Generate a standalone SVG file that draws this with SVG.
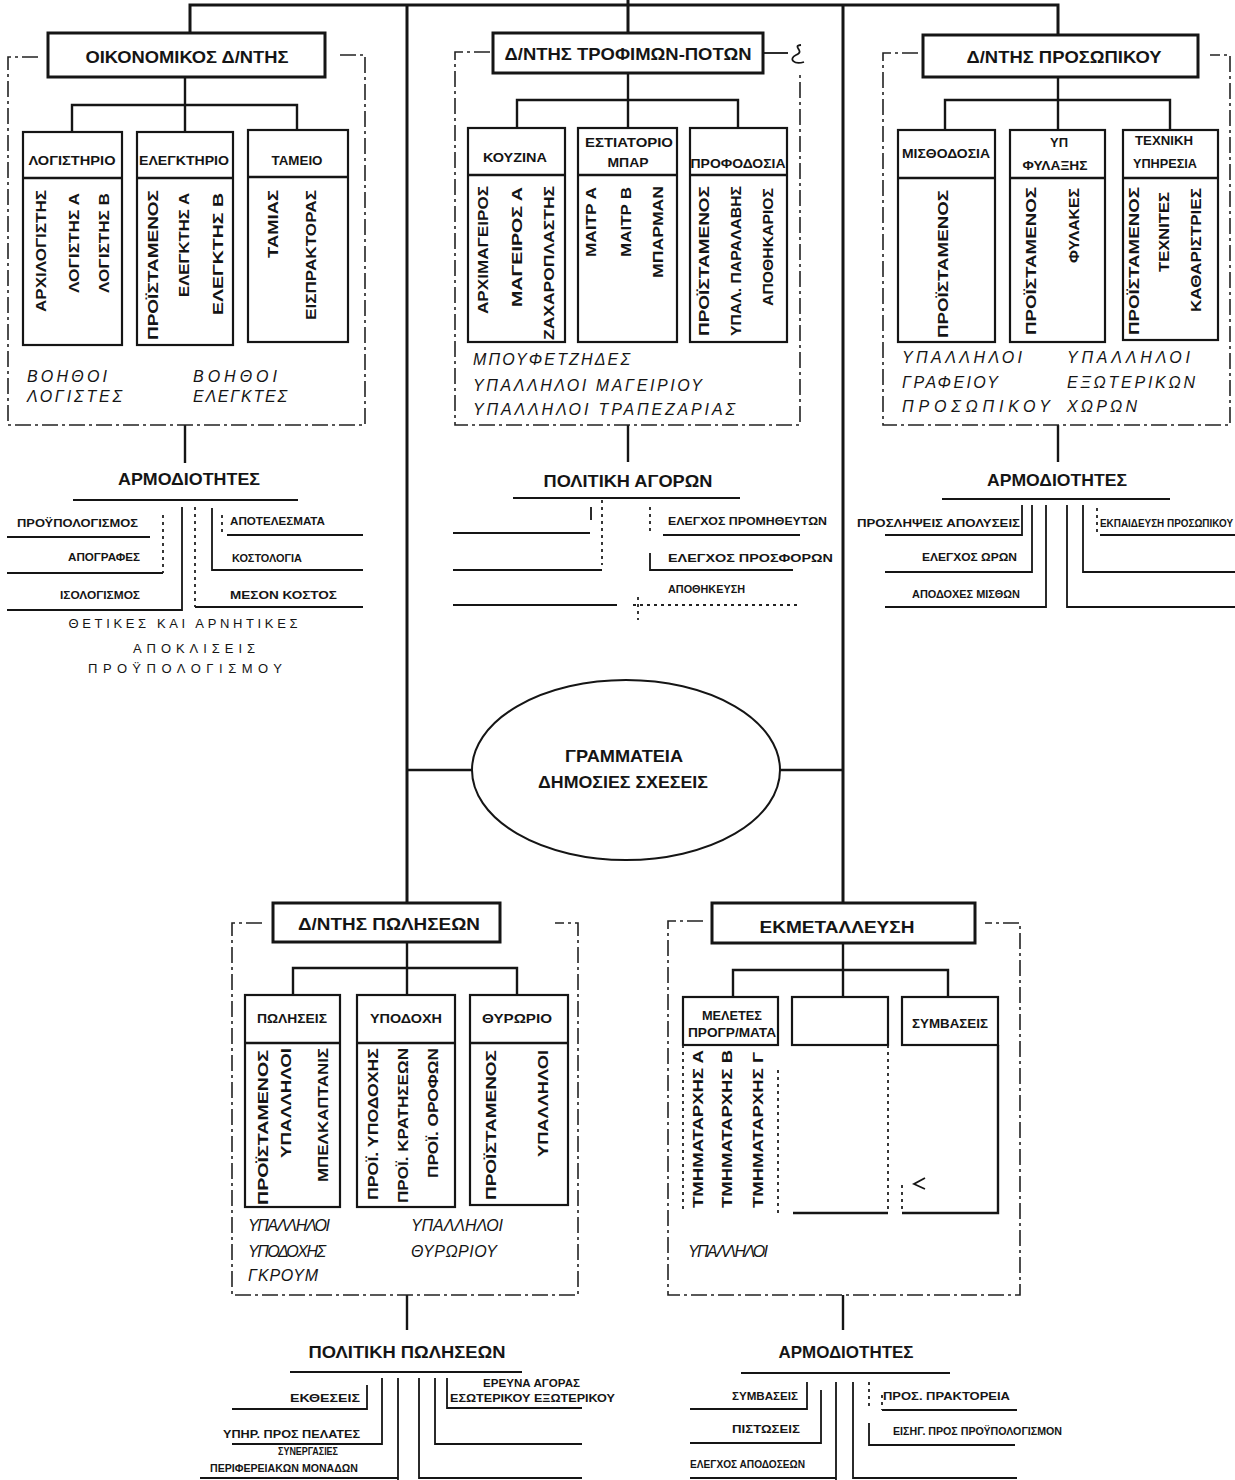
<svg xmlns="http://www.w3.org/2000/svg" width="1235" height="1480" viewBox="0 0 1235 1480">
<style>
.ln{stroke:#151515;fill:none}
.w3{stroke-width:3}
.w2{stroke-width:2.4}
.w1{stroke-width:1.8}
.enc{stroke:#222;fill:none;stroke-width:1.6;stroke-dasharray:16 4 3 4}
.dt{stroke:#222;fill:none;stroke-width:1.8;stroke-dasharray:3 4}
.bx{fill:#fff;stroke:#151515;stroke-width:3}
.sb{fill:none;stroke:#151515;stroke-width:2.2}
text{font-family:"Liberation Sans","DejaVu Sans",Arial,sans-serif;fill:#151515}
.h{font-size:17px;font-weight:bold;text-anchor:middle}
.s{font-size:13px;font-weight:bold;text-anchor:middle}
.v{font-size:15px;font-weight:bold;text-anchor:end}
.i{font-size:16px;font-style:italic}
.t{font-size:17px;font-weight:bold;text-anchor:middle}
.l{font-size:10px;font-weight:bold}
.c{font-size:13px;text-anchor:middle}
</style>

<g id="connectors">
  <path class="ln w3" d="M190,33 V5 H1058 V35 M628,0 V33 M407,5 V903 M843,5 V903"/>
  <path class="ln w2" d="M407,770 H472 M780,770 H843"/>
  <path class="ln w2" d="M185,77 V132 M72,132 V105 H297 V130 M185,425 V463"/>
  <path class="ln w2" d="M628,73 V128 M517,128 V100 H738 V128 M628,425 V462"/>
  <path class="ln w2" d="M1058,77 V130 M945,130 V100 H1170 V130 M1058,425 V462"/>
  <path class="ln w2" d="M407,942 V995 M293,995 V968 H517 V995 M407,1295 V1330"/>
  <path class="ln w2" d="M843,943 V997 M733,997 V970 H948 V997 M843,1295 V1330"/>

  <path class="ln w1" d="M73,500 H298 M7,537 H150 M163,573 H7 M182,507 V610 H7 M212,508 V570 H363 M195,607 H363 M227,535 H363"/>
  <path class="dt" d="M163,515 V573 M195,507 V607 M222,515 V532"/>
  <path class="ln w1" d="M513,498 H740 M591,507 V520 M453,533 H590 M453,570 H602 M453,605 H617 M663,535 H800 M650,553 V570 H793"/>
  <path class="dt" d="M602,500 V565 M638,597 V620 M650,507 V533 M633,605 H798"/>
  <path class="ln w1" d="M942,499 H1170 M1022,505 V535 H885 M1032,505 V572 H885 M1046,505 V607 H885 M1067,505 V607 H1235 M1083,505 V572 H1235 M1100,535 H1235"/>
  <path class="dt" d="M1097,508 V535"/>
  <path class="ln w1" d="M290,1372 H522 M382,1378 V1444 H232 M398,1378 V1480 M398,1478 H200 M419,1378 V1478 H582 M435,1378 V1444 H582 M447,1378 V1408 H582 M367,1385 V1409 H232"/>
  <path class="ln w1" d="M741,1373 H950 M807,1382 V1409 H690 M821,1390 V1443 H690 M836,1382 V1480 M836,1478 H690 M853,1382 V1478 H1017 M869,1423 V1445 H1015 M882,1410 H1017"/>
  <path class="dt" d="M869,1382 V1410 M882,1395 V1410"/>
</g>

<g id="node-oikonomikos">
  <path class="enc" d="M38,57 H8 V425 H365 V55 H340"/>
  <rect class="bx" x="48" y="33" width="277" height="44"/>
  <text class="h" x="187" y="63" textLength="203" lengthAdjust="spacingAndGlyphs">ΟΙΚΟΝΟΜΙΚΟΣ Δ/ΝΤΗΣ</text>
  <rect class="sb" x="23" y="132" width="99" height="213"/><path class="ln w2" d="M23,178 H122"/>
  <rect class="sb" x="137" y="132" width="96" height="213"/><path class="ln w2" d="M137,178 H233"/>
  <rect class="sb" x="248" y="130" width="100" height="212"/><path class="ln w2" d="M248,177 H348"/>
  <text class="s" x="72" y="165" textLength="87" lengthAdjust="spacingAndGlyphs">ΛΟΓΙΣΤΗΡΙΟ</text>
  <text class="s" x="184" y="165" textLength="90" lengthAdjust="spacingAndGlyphs">ΕΛΕΓΚΤΗΡΙΟ</text>
  <text class="s" x="297" y="165" textLength="51" lengthAdjust="spacingAndGlyphs">ΤΑΜΕΙΟ</text>
  <text class="v" transform="translate(46,190) rotate(-90)" textLength="122" lengthAdjust="spacingAndGlyphs">ΑΡΧΙΛΟΓΙΣΤΗΣ</text>
  <text class="v" transform="translate(79,193) rotate(-90)" textLength="100" lengthAdjust="spacingAndGlyphs">ΛΟΓΙΣΤΗΣ Α</text>
  <text class="v" transform="translate(109,193) rotate(-90)" textLength="100" lengthAdjust="spacingAndGlyphs">ΛΟΓΙΣΤΗΣ Β</text>
  <text class="v" transform="translate(158,190) rotate(-90)" textLength="150" lengthAdjust="spacingAndGlyphs">ΠΡΟΪΣΤΑΜΕΝΟΣ</text>
  <text class="v" transform="translate(189,193) rotate(-90)" textLength="104" lengthAdjust="spacingAndGlyphs">ΕΛΕΓΚΤΗΣ Α</text>
  <text class="v" transform="translate(223,193) rotate(-90)" textLength="122" lengthAdjust="spacingAndGlyphs">ΕΛΕΓΚΤΗΣ Β</text>
  <text class="v" transform="translate(278,190) rotate(-90)" textLength="68" lengthAdjust="spacingAndGlyphs">ΤΑΜΙΑΣ</text>
  <text class="v" transform="translate(316,190) rotate(-90)" textLength="130" lengthAdjust="spacingAndGlyphs">ΕΙΣΠΡΑΚΤΟΡΑΣ</text>
  <text class="i" x="27" y="382" textLength="80" lengthAdjust="spacing">ΒΟΗΘΟΙ</text>
  <text class="i" x="27" y="402" textLength="95" lengthAdjust="spacing">ΛΟΓΙΣΤΕΣ</text>
  <text class="i" x="193" y="382" textLength="84" lengthAdjust="spacing">ΒΟΗΘΟΙ</text>
  <text class="i" x="193" y="402" textLength="94" lengthAdjust="spacing">ΕΛΕΓΚΤΕΣ</text>
</g>

<g id="node-armodiotites-1">
  <text class="t" x="189" y="485" textLength="142" lengthAdjust="spacingAndGlyphs">ΑΡΜΟΔΙΟΤΗΤΕΣ</text>
  <text class="l" x="17" y="527" textLength="121" lengthAdjust="spacingAndGlyphs">ΠΡΟΫΠΟΛΟΓΙΣΜΟΣ</text>
  <text class="l" x="68" y="561" textLength="72" lengthAdjust="spacingAndGlyphs">ΑΠΟΓΡΑΦΕΣ</text>
  <text class="l" x="60" y="599" textLength="80" lengthAdjust="spacingAndGlyphs">ΙΣΟΛΟΓΙΣΜΟΣ</text>
  <text class="l" x="230" y="525" textLength="95" lengthAdjust="spacingAndGlyphs">ΑΠΟΤΕΛΕΣΜΑΤΑ</text>
  <text class="l" x="232" y="562" textLength="70" lengthAdjust="spacingAndGlyphs">ΚΟΣΤΟΛΟΓΙΑ</text>
  <text class="l" x="230" y="599" textLength="107" lengthAdjust="spacingAndGlyphs">ΜΕΣΟΝ ΚΟΣΤΟΣ</text>
  <text class="c" x="183" y="628" textLength="229" lengthAdjust="spacing">ΘΕΤΙΚΕΣ ΚΑΙ ΑΡΝΗΤΙΚΕΣ</text>
  <text class="c" x="194" y="653" textLength="122" lengthAdjust="spacing">ΑΠΟΚΛΙΣΕΙΣ</text>
  <text class="c" x="185" y="673" textLength="194" lengthAdjust="spacing">ΠΡΟΫΠΟΛΟΓΙΣΜΟΥ</text>
</g>

<g id="node-trofimon">
  <path class="enc" d="M490,52 H455 V425 H800 V75"/>
  <path class="ln w1" d="M763,53 H788"/>
  <path class="ln w1" d="M801,45 C791,46 806,51 796,55 C788,59 794,65 804,62"/>
  <rect class="bx" x="493" y="33" width="270" height="40"/>
  <text class="h" x="628" y="60" textLength="247" lengthAdjust="spacingAndGlyphs">Δ/ΝΤΗΣ ΤΡΟΦΙΜΩΝ-ΠΟΤΩΝ</text>
  <rect class="sb" x="468" y="128" width="97" height="214"/><path class="ln w2" d="M468,175 H565"/>
  <rect class="sb" x="578" y="128" width="99" height="214"/><path class="ln w2" d="M578,175 H677"/>
  <rect class="sb" x="690" y="128" width="97" height="214"/><path class="ln w2" d="M690,175 H787"/>
  <text class="s" x="515" y="162" textLength="64" lengthAdjust="spacingAndGlyphs">ΚΟΥΖΙΝΑ</text>
  <text class="s" x="629" y="147" textLength="88" lengthAdjust="spacingAndGlyphs">ΕΣΤΙΑΤΟΡΙΟ</text>
  <text class="s" x="628" y="167" textLength="41" lengthAdjust="spacingAndGlyphs">ΜΠΑΡ</text>
  <text class="s" x="738" y="168" textLength="95" lengthAdjust="spacingAndGlyphs">ΠΡΟΦΟΔΟΣΙΑ</text>
  <text class="v" transform="translate(488,186) rotate(-90)" textLength="128" lengthAdjust="spacingAndGlyphs">ΑΡΧΙΜΑΓΕΙΡΟΣ</text>
  <text class="v" transform="translate(522,187) rotate(-90)" textLength="120" lengthAdjust="spacingAndGlyphs">ΜΑΓΕΙΡΟΣ Α</text>
  <text class="v" transform="translate(554,186) rotate(-90)" textLength="154" lengthAdjust="spacingAndGlyphs">ΖΑΧΑΡΟΠΛΑΣΤΗΣ</text>
  <text class="v" transform="translate(596,187) rotate(-90)" textLength="70" lengthAdjust="spacingAndGlyphs">ΜΑΙΤΡ Α</text>
  <text class="v" transform="translate(631,187) rotate(-90)" textLength="70" lengthAdjust="spacingAndGlyphs">ΜΑΙΤΡ Β</text>
  <text class="v" transform="translate(663,186) rotate(-90)" textLength="92" lengthAdjust="spacingAndGlyphs">ΜΠΑΡΜΑΝ</text>
  <text class="v" transform="translate(709,186) rotate(-90)" textLength="150" lengthAdjust="spacingAndGlyphs">ΠΡΟΪΣΤΑΜΕΝΟΣ</text>
  <text class="v" transform="translate(741,186) rotate(-90)" textLength="150" lengthAdjust="spacingAndGlyphs">ΥΠΑΛ. ΠΑΡΑΛΑΒΗΣ</text>
  <text class="v" transform="translate(773,188) rotate(-90)" textLength="118" lengthAdjust="spacingAndGlyphs">ΑΠΟΘΗΚΑΡΙΟΣ</text>
  <text class="i" x="473" y="365" textLength="157" lengthAdjust="spacing">ΜΠΟΥΦΕΤΖΗΔΕΣ</text>
  <text class="i" x="473" y="391" textLength="229" lengthAdjust="spacing">ΥΠΑΛΛΗΛΟΙ ΜΑΓΕΙΡΙΟΥ</text>
  <text class="i" x="473" y="415" textLength="262" lengthAdjust="spacing">ΥΠΑΛΛΗΛΟΙ ΤΡΑΠΕΖΑΡΙΑΣ</text>
</g>

<g id="node-politiki-agoron">
  <text class="t" x="628" y="487" textLength="169" lengthAdjust="spacingAndGlyphs">ΠΟΛΙΤΙΚΗ ΑΓΟΡΩΝ</text>
  <text class="l" x="668" y="525" textLength="159" lengthAdjust="spacingAndGlyphs">ΕΛΕΓΧΟΣ ΠΡΟΜΗΘΕΥΤΩΝ</text>
  <text class="l" x="668" y="562" textLength="165" lengthAdjust="spacingAndGlyphs">ΕΛΕΓΧΟΣ ΠΡΟΣΦΟΡΩΝ</text>
  <text class="l" x="668" y="593" textLength="77" lengthAdjust="spacingAndGlyphs">ΑΠΟΘΗΚΕΥΣΗ</text>
</g>

<g id="node-prosopikou">
  <path class="enc" d="M918,53 H883 V425 H1230 V55 H1210"/>
  <rect class="bx" x="923" y="35" width="275" height="42"/>
  <text class="h" x="1064" y="63" textLength="195" lengthAdjust="spacingAndGlyphs">Δ/ΝΤΗΣ ΠΡΟΣΩΠΙΚΟΥ</text>
  <rect class="sb" x="898" y="130" width="97" height="212"/><path class="ln w2" d="M898,178 H995"/>
  <rect class="sb" x="1010" y="130" width="95" height="212"/><path class="ln w2" d="M1010,178 H1105"/>
  <rect class="sb" x="1123" y="130" width="95" height="210"/><path class="ln w2" d="M1123,178 H1218"/>
  <text class="s" x="946" y="158" textLength="88" lengthAdjust="spacingAndGlyphs">ΜΙΣΘΟΔΟΣΙΑ</text>
  <text class="s" x="1059" y="147" textLength="18" lengthAdjust="spacingAndGlyphs">ΥΠ</text>
  <text class="s" x="1055" y="170" textLength="65" lengthAdjust="spacingAndGlyphs">ΦΥΛΑΞΗΣ</text>
  <text class="s" x="1164" y="145" textLength="58" lengthAdjust="spacingAndGlyphs">ΤΕΧΝΙΚΗ</text>
  <text class="s" x="1165" y="168" textLength="64" lengthAdjust="spacingAndGlyphs">ΥΠΗΡΕΣΙΑ</text>
  <text class="v" transform="translate(948,190) rotate(-90)" textLength="148" lengthAdjust="spacingAndGlyphs">ΠΡΟΪΣΤΑΜΕΝΟΣ</text>
  <text class="v" transform="translate(1036,187) rotate(-90)" textLength="148" lengthAdjust="spacingAndGlyphs">ΠΡΟΪΣΤΑΜΕΝΟΣ</text>
  <text class="v" transform="translate(1079,188) rotate(-90)" textLength="75" lengthAdjust="spacingAndGlyphs">ΦΥΛΑΚΕΣ</text>
  <text class="v" transform="translate(1139,187) rotate(-90)" textLength="148" lengthAdjust="spacingAndGlyphs">ΠΡΟΪΣΤΑΜΕΝΟΣ</text>
  <text class="v" transform="translate(1169,192) rotate(-90)" textLength="80" lengthAdjust="spacingAndGlyphs">ΤΕΧΝΙΤΕΣ</text>
  <text class="v" transform="translate(1201,188) rotate(-90)" textLength="124" lengthAdjust="spacingAndGlyphs">ΚΑΘΑΡΙΣΤΡΙΕΣ</text>
  <text class="i" x="902" y="363" textLength="120" lengthAdjust="spacing">ΥΠΑΛΛΗΛΟΙ</text>
  <text class="i" x="902" y="388" textLength="96" lengthAdjust="spacing">ΓΡΑΦΕΙΟΥ</text>
  <text class="i" x="902" y="412" textLength="148" lengthAdjust="spacing">ΠΡΟΣΩΠΙΚΟΥ</text>
  <text class="i" x="1067" y="363" textLength="123" lengthAdjust="spacing">ΥΠΑΛΛΗΛΟΙ</text>
  <text class="i" x="1067" y="388" textLength="128" lengthAdjust="spacing">ΕΞΩΤΕΡΙΚΩΝ</text>
  <text class="i" x="1067" y="412" textLength="70" lengthAdjust="spacing">ΧΩΡΩΝ</text>
</g>

<g id="node-armodiotites-2">
  <text class="t" x="1057" y="486" textLength="140" lengthAdjust="spacingAndGlyphs">ΑΡΜΟΔΙΟΤΗΤΕΣ</text>
  <text class="l" x="857" y="527" textLength="163" lengthAdjust="spacingAndGlyphs">ΠΡΟΣΛΗΨΕΙΣ ΑΠΟΛΥΣΕΙΣ</text>
  <text class="l" x="922" y="561" textLength="95" lengthAdjust="spacingAndGlyphs">ΕΛΕΓΧΟΣ ΩΡΩΝ</text>
  <text class="l" x="912" y="598" textLength="108" lengthAdjust="spacingAndGlyphs">ΑΠΟΔΟΧΕΣ ΜΙΣΘΩΝ</text>
  <text class="l" x="1100" y="527" textLength="133" lengthAdjust="spacingAndGlyphs">ΕΚΠΑΙΔΕΥΣΗ ΠΡΟΣΩΠΙΚΟΥ</text>
</g>

<g id="node-grammateia">
  <ellipse cx="626" cy="770" rx="154" ry="90" fill="#fff" stroke="#151515" stroke-width="2"/>
  <text class="t" x="624" y="762" textLength="118" lengthAdjust="spacingAndGlyphs">ΓΡΑΜΜΑΤΕΙΑ</text>
  <text class="t" x="623" y="788" textLength="170" lengthAdjust="spacingAndGlyphs">ΔΗΜΟΣΙΕΣ ΣΧΕΣΕΙΣ</text>
</g>

<g id="node-poliseon">
  <path class="enc" d="M262,923 H232 V1295 H578 V923 H555"/>
  <rect class="bx" x="273" y="903" width="227" height="39"/>
  <text class="h" x="389" y="930" textLength="182" lengthAdjust="spacingAndGlyphs">Δ/ΝΤΗΣ ΠΩΛΗΣΕΩΝ</text>
  <rect class="sb" x="245" y="995" width="95" height="212"/><path class="ln w2" d="M245,1043 H340"/>
  <rect class="sb" x="357" y="995" width="98" height="212"/><path class="ln w2" d="M357,1043 H455"/>
  <rect class="sb" x="470" y="995" width="98" height="210"/><path class="ln w2" d="M470,1043 H568"/>
  <text class="s" x="292" y="1023" textLength="70" lengthAdjust="spacingAndGlyphs">ΠΩΛΗΣΕΙΣ</text>
  <text class="s" x="406" y="1023" textLength="72" lengthAdjust="spacingAndGlyphs">ΥΠΟΔΟΧΗ</text>
  <text class="s" x="517" y="1023" textLength="70" lengthAdjust="spacingAndGlyphs">ΘΥΡΩΡΙΟ</text>
  <text class="v" transform="translate(268,1050) rotate(-90)" textLength="155" lengthAdjust="spacingAndGlyphs">ΠΡΟΪΣΤΑΜΕΝΟΣ</text>
  <text class="v" transform="translate(291,1048) rotate(-90)" textLength="110" lengthAdjust="spacingAndGlyphs">ΥΠΑΛΛΗΛΟΙ</text>
  <text class="v" transform="translate(328,1048) rotate(-90)" textLength="134" lengthAdjust="spacingAndGlyphs">ΜΠΕΛΚΑΠΤΑΝΙΣ</text>
  <text class="v" transform="translate(378,1048) rotate(-90)" textLength="152" lengthAdjust="spacingAndGlyphs">ΠΡΟΪ. ΥΠΟΔΟΧΗΣ</text>
  <text class="v" transform="translate(408,1048) rotate(-90)" textLength="155" lengthAdjust="spacingAndGlyphs">ΠΡΟΪ. ΚΡΑΤΗΣΕΩΝ</text>
  <text class="v" transform="translate(438,1048) rotate(-90)" textLength="130" lengthAdjust="spacingAndGlyphs">ΠΡΟΪ. ΟΡΟΦΩΝ</text>
  <text class="v" transform="translate(496,1050) rotate(-90)" textLength="150" lengthAdjust="spacingAndGlyphs">ΠΡΟΪΣΤΑΜΕΝΟΣ</text>
  <text class="v" transform="translate(548,1050) rotate(-90)" textLength="107" lengthAdjust="spacingAndGlyphs">ΥΠΑΛΛΗΛΟΙ</text>
  <text class="i" x="248" y="1231" textLength="82" lengthAdjust="spacing">ΥΠΑΛΛΗΛΟΙ</text>
  <text class="i" x="248" y="1257" textLength="78" lengthAdjust="spacing">ΥΠΟΔΟΧΗΣ</text>
  <text class="i" x="248" y="1281" textLength="70" lengthAdjust="spacing">ΓΚΡΟΥΜ</text>
  <text class="i" x="411" y="1231" textLength="92" lengthAdjust="spacing">ΥΠΑΛΛΗΛΟΙ</text>
  <text class="i" x="411" y="1257" textLength="86" lengthAdjust="spacing">ΘΥΡΩΡΙΟΥ</text>
</g>

<g id="node-politiki-poliseon">
  <text class="t" x="407" y="1358" textLength="197" lengthAdjust="spacingAndGlyphs">ΠΟΛΙΤΙΚΗ ΠΩΛΗΣΕΩΝ</text>
  <text class="l" x="290" y="1402" textLength="70" lengthAdjust="spacingAndGlyphs">ΕΚΘΕΣΕΙΣ</text>
  <text class="l" x="223" y="1438" textLength="137" lengthAdjust="spacingAndGlyphs">ΥΠΗΡ. ΠΡΟΣ ΠΕΛΑΤΕΣ</text>
  <text class="l" x="278" y="1455" textLength="60" lengthAdjust="spacingAndGlyphs">ΣΥΝΕΡΓΑΣΙΕΣ</text>
  <text class="l" x="210" y="1472" textLength="148" lengthAdjust="spacingAndGlyphs">ΠΕΡΙΦΕΡΕΙΑΚΩΝ ΜΟΝΑΔΩΝ</text>
  <text class="l" x="483" y="1387" textLength="97" lengthAdjust="spacingAndGlyphs">ΕΡΕΥΝΑ ΑΓΟΡΑΣ</text>
  <text class="l" x="450" y="1402" textLength="165" lengthAdjust="spacingAndGlyphs">ΕΣΩΤΕΡΙΚΟΥ ΕΞΩΤΕΡΙΚΟΥ</text>
</g>

<g id="node-ekmetalleusi">
  <path class="enc" d="M703,921 H668 V1295 H1020 V923 H985"/>
  <rect class="bx" x="712" y="903" width="263" height="40"/>
  <text class="h" x="837" y="933" textLength="155" lengthAdjust="spacingAndGlyphs">ΕΚΜΕΤΑΛΛΕΥΣΗ</text>
  <rect class="sb" x="683" y="997" width="95" height="48"/>
  <rect class="sb" x="792" y="997" width="96" height="48"/>
  <rect class="sb" x="902" y="997" width="96" height="48"/>
  <path class="dt" d="M683,1045 V1213 M778,1070 V1213 M888,1045 V1213"/>
  <path class="ln w2" d="M793,1213 H888 M998,1045 V1213 H902"/>
  <path class="dt" d="M902,1185 V1213"/>
  <path class="ln w1" d="M925,1178 L914,1184 L925,1189"/>
  <text class="s" x="732" y="1020" textLength="60" lengthAdjust="spacingAndGlyphs">ΜΕΛΕΤΕΣ</text>
  <text class="s" x="732" y="1037" textLength="88" lengthAdjust="spacingAndGlyphs">ΠΡΟΓΡ/ΜΑΤΑ</text>
  <text class="s" x="950" y="1028" textLength="76" lengthAdjust="spacingAndGlyphs">ΣΥΜΒΑΣΕΙΣ</text>
  <text class="v" transform="translate(703,1050) rotate(-90)" textLength="158" lengthAdjust="spacingAndGlyphs">ΤΜΗΜΑΤΑΡΧΗΣ Α</text>
  <text class="v" transform="translate(732,1050) rotate(-90)" textLength="158" lengthAdjust="spacingAndGlyphs">ΤΜΗΜΑΤΑΡΧΗΣ Β</text>
  <text class="v" transform="translate(763,1052) rotate(-90)" textLength="156" lengthAdjust="spacingAndGlyphs">ΤΜΗΜΑΤΑΡΧΗΣ Γ</text>
  <text class="i" x="688" y="1257" textLength="80" lengthAdjust="spacing">ΥΠΑΛΛΗΛΟΙ</text>
</g>

<g id="node-armodiotites-3">
  <text class="t" x="846" y="1358" textLength="135" lengthAdjust="spacingAndGlyphs">ΑΡΜΟΔΙΟΤΗΤΕΣ</text>
  <text class="l" x="732" y="1400" textLength="66" lengthAdjust="spacingAndGlyphs">ΣΥΜΒΑΣΕΙΣ</text>
  <text class="l" x="732" y="1433" textLength="68" lengthAdjust="spacingAndGlyphs">ΠΙΣΤΩΣΕΙΣ</text>
  <text class="l" x="690" y="1468" textLength="115" lengthAdjust="spacingAndGlyphs">ΕΛΕΓΧΟΣ ΑΠΟΔΟΣΕΩΝ</text>
  <text class="l" x="883" y="1400" textLength="127" lengthAdjust="spacingAndGlyphs">ΠΡΟΣ. ΠΡΑΚΤΟΡΕΙΑ</text>
  <text class="l" x="893" y="1435" textLength="169" lengthAdjust="spacingAndGlyphs">ΕΙΣΗΓ. ΠΡΟΣ ΠΡΟΫΠΟΛΟΓΙΣΜΟΝ</text>
</g>
</svg>
